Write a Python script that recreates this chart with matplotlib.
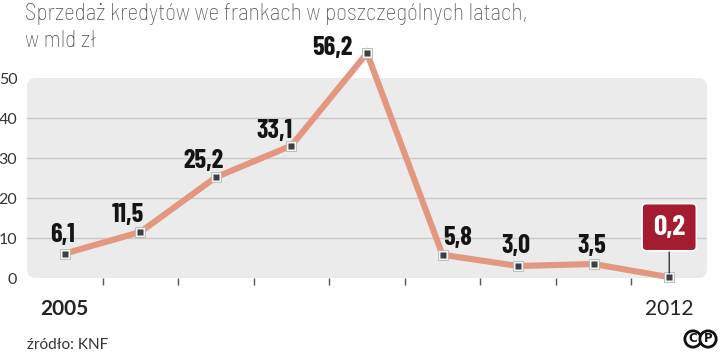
import matplotlib
matplotlib.use("Agg")
import matplotlib.pyplot as plt
from matplotlib.patches import FancyBboxPatch

# data
years = ["2005", "2012"]
values = [6.1, 11.5, 25.2, 33.1, 56.2, 5.8, 3.0, 3.5, 0.2]
value_labels = ["6,1", "11,5", "25,2", "33,1", "56,2", "5,8", "3,0", "3,5", "0,2"]
yticks = [0, 10, 20, 30, 40, 50]

title_lines = ["Sprzedaż kredytów we frankach w poszczególnych latach,", "w mld zł"]
source = "źródło: KNF"

# label offsets in pixels (dx, dy) from each point
label_offsets = [(-2, 12), (-13, 10), (-12, 9), (-17, 8), (-35, -2),
                 (15, 10), (-2, 13), (-2, 11)]

W, H = 720, 352
fig = plt.figure(figsize=(W / 100, H / 100), dpi=100)
ax = fig.add_axes([27 / W, 1 - 278 / H, 680 / W, 200 / H])

bold_font = ["Barlow Condensed", "DejaVu Sans"]
title_font = ["Barlow Semi Condensed", "DejaVu Sans"]
light_font = ["Lato", "DejaVu Sans"]

# rounded grey background
bg = FancyBboxPatch((0.27, 0.74), 6.8, 2.0,
                    boxstyle="round,pad=0,rounding_size=0.09",
                    transform=fig.dpi_scale_trans, facecolor="#ebebeb",
                    edgecolor="none", zorder=0, clip_on=False)
ax.add_patch(bg)
ax.set_facecolor("none")

x = list(range(len(values)))
ax.set_xlim(-0.5, len(values) - 0.5)
ax.set_ylim(0, 50)

for g in yticks[1:-1]:
    ax.axhline(g, color="#c9c9c9", lw=1, zorder=1)

ax.plot(x, values, color="#e3977f", lw=4.4, solid_joinstyle="miter",
        solid_capstyle="butt", zorder=3, clip_on=False)
# marker: thin grey outline, white ring, dark centre
ax.plot(x, values, ls="none", marker="s", ms=7.6, mfc="#f4f4f4", mec="#b5b5b5",
        mew=0.6, zorder=4, clip_on=False)
ax.plot(x, values, ls="none", marker="s", ms=4, mfc="#3b4040", mec="none",
        zorder=4.5, clip_on=False)

for i in range(len(values) - 1):
    dx, dy = label_offsets[i]
    ax.annotate(value_labels[i], (x[i], values[i]), xytext=(dx, dy),
                textcoords="offset pixels", ha="center", va="baseline",
                fontsize=19, fontweight="bold", family=bold_font,
                color="#141414", zorder=5, annotation_clip=False)

# highlighted last value
ax.annotate(value_labels[-1], (x[-1], values[-1]), xytext=(0, 50),
            textcoords="offset pixels", ha="center", va="center",
            fontsize=21, fontweight="bold", family=bold_font, color="white",
            bbox=dict(boxstyle="round,pad=0.38,rounding_size=0.15",
                      fc="#a51c30", ec="white", lw=1.2),
            arrowprops=dict(arrowstyle="-", color="#222222", lw=0.9,
                            shrinkA=0, shrinkB=3),
            zorder=6, annotation_clip=False)

for s in ax.spines.values():
    s.set_visible(False)

ax.set_yticks(yticks)
ax.set_yticklabels([str(t) for t in yticks], family=light_font,
                   fontsize=11.5, color="#333333")
ax.tick_params(axis="y", length=0, pad=7)

ax.set_xticks([0, len(values) - 1])
ax.set_xticklabels(years, family=light_font, fontsize=15, color="#222222")
ax.get_xticklabels()[0].set_fontweight("bold")
ax.set_xticks([i + 0.5 for i in range(len(values) - 1)], minor=True)
ax.tick_params(axis="x", which="major", length=0, pad=15)
ax.tick_params(axis="x", which="minor", length=5, width=1, color="#555555",
               direction="out")

fig.text(25 / W, 1 - 20 / H, title_lines[0], family=title_font,
         fontweight="light", fontsize=16.8, color="#4d4d4d", va="baseline")
fig.text(25 / W, 1 - 47 / H, title_lines[1], family=title_font,
         fontweight="light", fontsize=16.8, color="#4d4d4d", va="baseline")
fig.text(27 / W, 1 - 349 / H, source, family=light_font, fontsize=11,
         color="#333333", va="baseline")

# cp logo
for cx, ch in [(693, "C"), (708, "P")]:
    fig.text(cx / W, 1 - 339 / H, ch, ha="center", va="center", fontsize=8.5,
             fontweight="bold", color="#111111",
             bbox=dict(boxstyle="circle,pad=0.14", fc="white", ec="#111111",
                       lw=2))

fig.savefig("out.png", dpi=100)
